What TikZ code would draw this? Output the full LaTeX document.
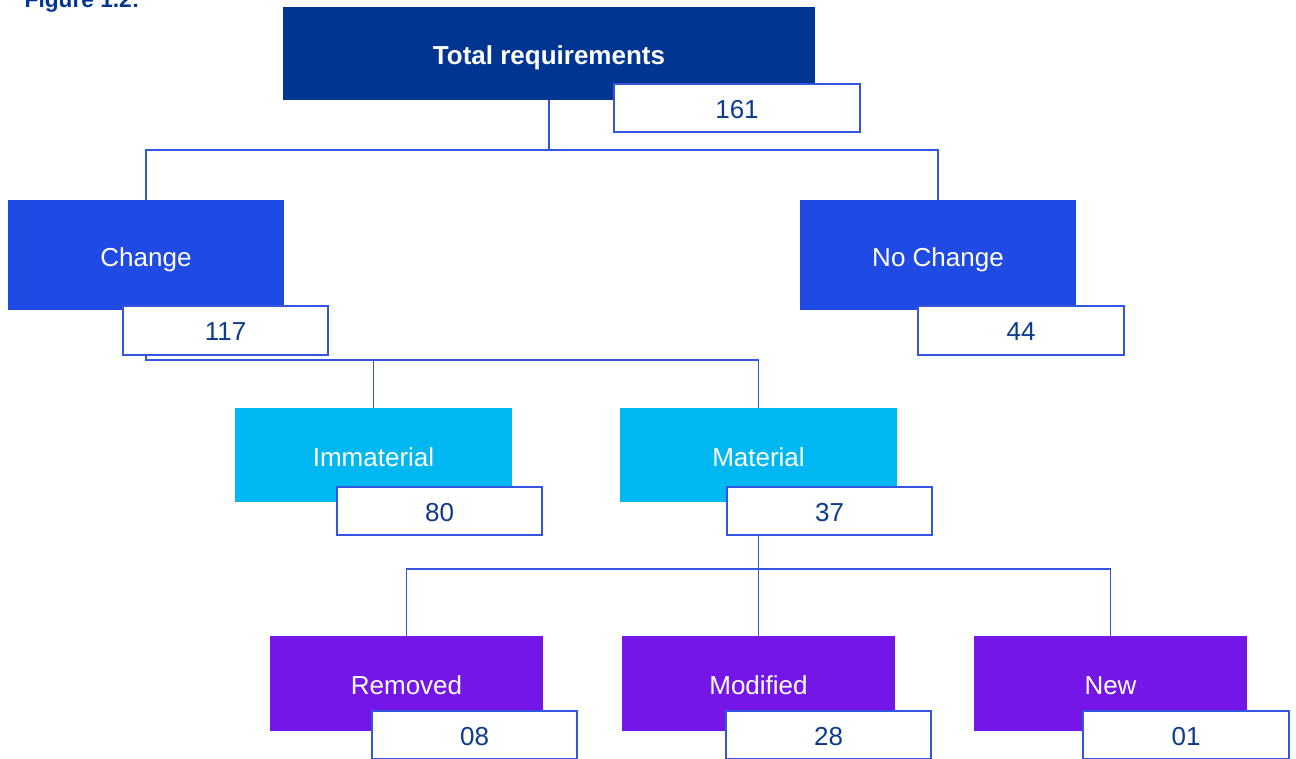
\documentclass[tikz,border=0pt]{standalone}
\usepackage{fontspec}
\setmainfont{Liberation Sans}
\usetikzlibrary{backgrounds}
\definecolor{navy}{HTML}{003591}
\definecolor{royal}{HTML}{1F4AE3}
\definecolor{sky}{HTML}{00B8F1}
\definecolor{violet}{HTML}{7416E8}
\definecolor{linec}{HTML}{3355E0}
\definecolor{numc}{HTML}{0B3A8E}
\tikzset{
  base/.style={rectangle, inner sep=0pt, outer sep=0pt, text height=17pt, text depth=0pt, font=\fontsize{19.5}{22}\selectfont},
  topbox/.style={base, fill=navy, text=white, font=\fontsize{19.5}{22}\selectfont\bfseries},
  lvlone/.style={base, fill=royal, text=white},
  lvltwo/.style={base, fill=sky, text=white},
  lvlthree/.style={base, fill=violet, text=white},
  numbox/.style={base, text height=15pt, fill=white, draw=linec, line width=1pt, text=numc},
  conn/.style={draw=linec, line width=1pt}
}
\begin{document}
\begin{tikzpicture}[x=0.75pt,y=-0.75pt]
\useasboundingbox (0,0) rectangle (1296,758);
\node[anchor=base west, text=navy, font=\fontsize{17}{20}\selectfont\bfseries] (fig) at (20,7) {Figure 1.2:};
% coloured boxes
\node[topbox, minimum width=399pt, minimum height=69.75pt] (total) at (549,53.5) {Total requirements};
\node[lvlone, minimum width=207pt, minimum height=82.5pt] (change) at (146,255) {Change};
\node[lvlone, minimum width=207pt, minimum height=82.5pt] (nochange) at (938,255) {No Change};
\node[lvltwo, minimum width=207.75pt, minimum height=70.5pt] (immat) at (373.5,455) {Immaterial};
\node[lvltwo, minimum width=207.75pt, minimum height=70.5pt] (mat) at (758.5,455) {Material};
\node[lvlthree, minimum width=204.75pt, minimum height=71.25pt] (removed) at (406.5,683.5) {Removed};
\node[lvlthree, minimum width=204.75pt, minimum height=71.25pt] (modified) at (758.5,683.5) {Modified};
\node[lvlthree, minimum width=204.75pt, minimum height=71.25pt] (new) at (1110.5,683.5) {New};
% number boxes
\node[numbox, minimum width=184.5pt, minimum height=36pt] (n161) at (737,108) {161};
\node[numbox, minimum width=153.75pt, minimum height=36.75pt] (n117) at (225.5,330.5) {117};
\node[numbox, minimum width=154.5pt, minimum height=36.75pt] (n44) at (1021,330.5) {44};
\node[numbox, minimum width=153.75pt, minimum height=36pt] (n80) at (439.5,511) {80};
\node[numbox, minimum width=153.75pt, minimum height=36pt] (n37) at (829.5,511) {37};
\node[numbox, minimum width=153.75pt, minimum height=36pt] (n08) at (474.5,735) {08};
\node[numbox, minimum width=153.75pt, minimum height=36pt] (n28) at (828.5,735) {28};
\node[numbox, minimum width=154.5pt, minimum height=36pt] (n01) at (1186,735) {01};
% connectors
\begin{scope}[on background layer]
\draw[conn] (total.south) -- ++(0,50) -| (change.north);
\draw[conn] (total.south) -- ++(0,50) -| (nochange.north);
\draw[conn] (change.south) -- ++(0,50) -| (immat.north);
\draw[conn] (change.south) -- ++(0,50) -| (mat.north);
\draw[conn] (mat.south) -- ++(0,67) -| (removed.north);
\draw[conn] (mat.south) -- ++(0,67) -| (modified.north);
\draw[conn] (mat.south) -- ++(0,67) -| (new.north);
\end{scope}
\end{tikzpicture}
\end{document}
